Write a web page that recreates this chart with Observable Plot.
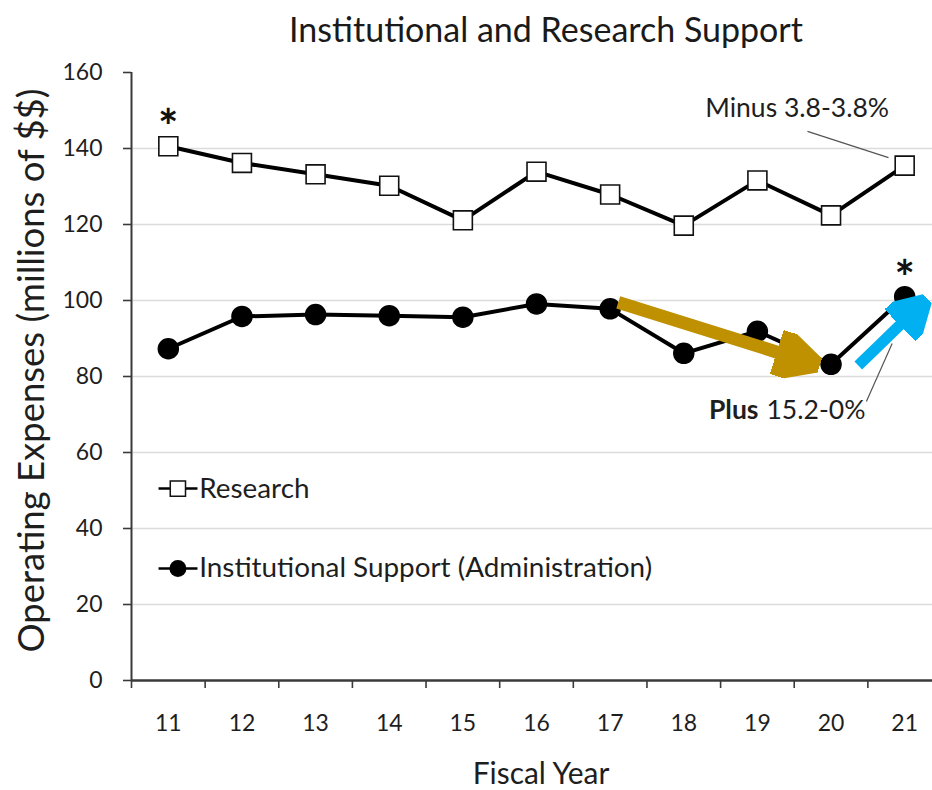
<!DOCTYPE html>
<html><head><meta charset="utf-8">
<script src="https://cdn.jsdelivr.net/npm/d3@7"></script>
<script src="https://cdn.jsdelivr.net/npm/@observablehq/plot@0.6"></script>
<style>
body{margin:0;background:#fff;}
#title{width:932px;height:58px;box-sizing:border-box;padding-left:160px;text-align:center;line-height:58px;color:#1a1a1a;white-space:nowrap;}
#chart svg{display:block;overflow:visible;}
</style></head><body>
<div id="title">Institutional and Research Support</div>
<div id="chart"></div>
<script>
// ---- data ----
const years = [11, 12, 13, 14, 15, 16, 17, 18, 19, 20, 21];
const research = [140.6, 136.2, 133.2, 130.2, 121.1, 133.9, 127.9, 119.7, 131.6, 122.4, 135.5];
const institutional = [87.3, 95.8, 96.3, 96.0, 95.6, 99.1, 97.8, 86.1, 91.9, 83.2, 101.0];
const yTicks = [0, 20, 40, 60, 80, 100, 120, 140, 160];
const seriesNames = ["Research", "Institutional Support (Administration)"];
const titleText = "Institutional and Research Support";
const xLabel = "Fiscal Year";
const yLabel = "Operating Expenses (millions of $$)";
const asterisks = [{year: 11, value: 140.6}, {year: 21, value: 101.0}];
const minusNote = {text: "Minus 3.8-3.8%", x: 19.54, y: 150.5, lx1: 19.68, ly1: 144.5, lx2: 20.78, ly2: 137.6};
const plusNote = {bold: "Plus", rest: "15.2-0%", xb: 19.015, xr: 19.123, y: 71.0, lx1: 20.48, ly1: 73.4, lx2: 20.83, ly2: 88.7};
const goldArrow = [{x1: 17.11, y1: 99.5, x2: 19.27, y2: 86.4}];
const blueArrow = [{x1: 20.37, y1: 82.9, x2: 20.94, y2: 93.6}];
const legendRows = [{name: seriesNames[0], y: 50.5}, {name: seriesNames[1], y: 29.5}];

// ---- helpers ----
const cctx = document.createElement("canvas").getContext("2d");
const probe = "abcdefghijklmnopqrstuvwxyzABCDEFGHIJ0123456789";
function hasFont(name) {
  cctx.font = "100px monospace"; const a = cctx.measureText(probe).width;
  cctx.font = `100px '${name}', monospace`; const b = cctx.measureText(probe).width;
  return Math.abs(a - b) > 1;
}
const FONT = hasFont("Liberation Sans Narrow") ? "Liberation Sans Narrow" : "Lato";
const FAM = `'${FONT}', sans-serif`;
function fit(text, width, weight = "normal") {
  cctx.font = `${weight} 100px ${FAM}`;
  return 100 * width / cctx.measureText(text).width;
}
function headMarker(len, wid, fill) {
  return () => {
    const ns = "http://www.w3.org/2000/svg";
    const m = document.createElementNS(ns, "marker");
    m.setAttribute("viewBox", `0 ${-wid / 2} ${len} ${wid}`);
    m.setAttribute("markerUnits", "userSpaceOnUse");
    m.setAttribute("markerWidth", len);
    m.setAttribute("markerHeight", wid);
    m.setAttribute("refX", 0.5);
    m.setAttribute("refY", 0);
    m.setAttribute("orient", "auto");
    const p = document.createElementNS(ns, "path");
    p.setAttribute("d", `M0,${-wid / 2}L${len},0L0,${wid / 2}Z`);
    p.setAttribute("fill", fill);
    m.appendChild(p);
    return m;
  };
}

const titleFS = fit(titleText, 514);
const tickFS = fit("160", 40);
const legFS = (fit(seriesNames[0], 111) + fit(seriesNames[1], 450)) / 2;
const xLabFS = fit(xLabel, 138);
const yLabFS = fit(yLabel, 565);
const noteFS = fit(minusNote.text, 184);

const t = document.getElementById("title");
t.style.fontFamily = FAM; t.style.fontSize = titleFS + "px";

const researchData = years.map((year, i) => ({year, value: research[i]}));
const instData = years.map((year, i) => ({year, value: institutional[i]}));
const boundaries = years.map(y => y - 0.5);

const axisColor = "#3a3a3a";
const textColor = "#1e1e1e";

const plot = Plot.plot({
  width: 932, height: 732,
  marginTop: 14, marginBottom: 110, marginLeft: 131, marginRight: 0,
  x: {domain: [10.5, 21.5], range: [131, 941]},
  y: {domain: [0, 160]},
  style: {fontFamily: FAM, color: textColor, background: "white", overflow: "visible"},
  marks: [
    Plot.gridY(yTicks.filter(d => d > 0 && d < 160), {stroke: "#dcdcdc", strokeOpacity: 1, strokeWidth: 1.6}),
    Plot.axisY(yTicks, {tickSize: 8, tickPadding: 21, fontSize: tickFS, label: null, stroke: axisColor, strokeWidth: 1.6, fill: textColor}),
    Plot.axisX(boundaries, {tickSize: 8, tickFormat: () => "", label: null, stroke: axisColor, strokeWidth: 1.6}),
    Plot.text(years, {x: d => d, frameAnchor: "bottom", lineAnchor: "middle", textAnchor: "middle", dy: 43, text: d => String(d), fontSize: tickFS, fill: textColor}),
    Plot.ruleX([10.5], {stroke: axisColor, strokeWidth: 2}),
    Plot.ruleY([0], {stroke: axisColor, strokeWidth: 2.6}),
    Plot.text([yLabel], {frameAnchor: "left", textAnchor: "middle", lineAnchor: "middle", rotate: -90, dx: -99, dy: -6, fontSize: yLabFS, fill: textColor}),
    Plot.text([xLabel], {frameAnchor: "bottom", textAnchor: "middle", lineAnchor: "middle", dx: 9, dy: 94, fontSize: xLabFS, fill: textColor}),
    // series
    Plot.line(researchData, {x: "year", y: "value", stroke: "#000", strokeWidth: 4}),
    Plot.dot(researchData, {x: "year", y: "value", symbol: "square", r: 10.7, fill: "white", stroke: "#111", strokeWidth: 1.6}),
    Plot.line(instData, {x: "year", y: "value", stroke: "#000", strokeWidth: 4}),
    Plot.dot(instData, {x: "year", y: "value", r: 10, fill: "#000", stroke: "#000"}),
    // asterisks
    Plot.text(asterisks, {x: "year", y: "value", text: () => "*", dy: -2, fontSize: 48, fontWeight: "bold", fill: "#111", lineAnchor: "bottom"}),
    // annotations
    Plot.link([minusNote], {x1: "lx1", y1: "ly1", x2: "lx2", y2: "ly2", stroke: "#555", strokeWidth: 1.2}),
    Plot.text([minusNote], {x: "x", y: "y", text: "text", fontSize: noteFS, fill: textColor}),
    Plot.link([plusNote], {x1: "lx1", y1: "ly1", x2: "lx2", y2: "ly2", stroke: "#555", strokeWidth: 1.2}),
    Plot.text([plusNote], {x: "xb", y: "y", text: "bold", fontSize: noteFS, fontWeight: "bold", textAnchor: "end", fill: textColor}),
    Plot.text([plusNote], {x: "xr", y: "y", text: "rest", fontSize: noteFS, textAnchor: "start", fill: textColor}),
    // arrows
    Plot.link(goldArrow, {x1: "x1", y1: "y1", x2: "x2", y2: "y2", stroke: "#BF9000", strokeWidth: 13, markerEnd: headMarker(45, 46, "#BF9000")}),
    Plot.link(blueArrow, {x1: "x1", y1: "y1", x2: "x2", y2: "y2", stroke: "#00B0F0", strokeWidth: 11, markerEnd: headMarker(38, 44, "#00B0F0")}),
    // legend
    Plot.link(legendRows, {x1: 10.867, x2: 11.396, y1: "y", y2: "y", stroke: "#000", strokeWidth: 2.5}),
    Plot.dot(legendRows.slice(0, 1), {x: 11.13, y: "y", symbol: "square", r: 8.6, fill: "white", stroke: "#111", strokeWidth: 1.5}),
    Plot.dot(legendRows.slice(1), {x: 11.13, y: "y", r: 8.5, fill: "#000"}),
    Plot.text(legendRows, {x: 11.42, y: "y", text: "name", textAnchor: "start", fontSize: legFS, fill: textColor})
  ]
});
document.getElementById("chart").appendChild(plot);
</script>
</body></html>
